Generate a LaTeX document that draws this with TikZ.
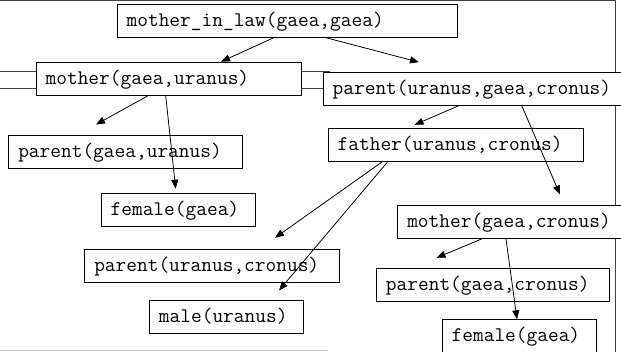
\documentclass[tikz,border=0pt]{standalone}
\usepackage{fontspec}
\usetikzlibrary{arrows.meta}
\begin{document}
\begin{tikzpicture}[x=1pt, y=-1pt,
    term/.style={draw, fill=white, line width=0.9pt, anchor=north west,
      font=\ttfamily\fontsize{20.8}{24}\selectfont, inner xsep=9.5pt, inner ysep=0pt,
      minimum height=33pt, align=left, text height=14.5pt, text depth=3.5pt},
    link/.style={line width=0.8pt, -{Triangle[length=9pt, width=7pt]}},
    frame/.style={line width=1pt, black!75}]
   \useasboundingbox (0,0) rectangle (621,352);
   \clip (0,0) rectangle (621,352);
   \draw[frame] (0,0.5) -- (615.5,0.5) -- (615.5,352);
   \draw[frame] (0,71.7) -- (330,71.7) (0,88.3) -- (330,88.3);
   \draw[black!25, line width=1pt] (0,350.7) -- (328,350.7);
   \node[term, text width=321.6pt] (mil) at (116.7,4) {mother\_in\_law(gaea,gaea)};
   \node[term, text width=246pt] (mu) at (35.7,61.7) {mother(gaea,uranus)};
   \node[term, text width=281pt] (pugc) at (322.7,71.7) {parent(uranus,gaea,cronus)};
   \node[term, text width=214.4pt] (pgu) at (8.3,135) {parent(gaea,uranus)};
   \node[term, text width=236.3pt] (fuc) at (327.7,128.3) {father(uranus,cronus)};
   \node[term, text width=135.3pt] (fg) at (100.7,192.7) {female(gaea)};
   \node[term, text width=207pt] (mgc) at (397.3,205) {mother(gaea,cronus)};
   \node[term, text width=236pt] (puc) at (84.3,249.3) {parent(uranus,cronus)};
   \node[term, text width=214.3pt] (pgc) at (376,268.3) {parent(gaea,cronus)};
   \node[term, text width=135.3pt] (mlu) at (149,300) {male(uranus)};
   \node[term, text width=135.3pt] (fg2) at (441.7,319.3) {female(gaea)};
   \draw[link] ([xshift=156.6pt]mil.south west) -- ([xshift=185.3pt]mu.north west);
   \draw[link] ([xshift=210pt]mil.south west) -- ([xshift=96.3pt, yshift=9.5pt]pugc.north west);
   \draw[link] ([xshift=112.6pt]mu.south west) -- ([xshift=87.7pt, yshift=10.5pt]pgu.north west);
   \draw[link] ([xshift=130pt]mu.south west) -- ([xshift=75pt, yshift=4pt]fg.north west);
   \draw[link] ([xshift=136.3pt]pugc.south west) -- ([xshift=86.8pt, yshift=3.5pt]fuc.north west);
   \draw[link] ([xshift=199pt]pugc.south west) -- ([xshift=162.7pt, yshift=10.5pt]mgc.north west);
   \draw[link] ([xshift=54pt]fuc.south west) -- ([xshift=190.7pt, yshift=11.5pt]puc.north west);
   \draw[link] ([xshift=59.6pt]fuc.south west) -- ([xshift=130pt, yshift=9.5pt]mlu.north west);
   \draw[link] ([xshift=84.4pt]mgc.south west) -- ([xshift=60.5pt, yshift=10.5pt]pgc.north west);
   \draw[link] ([xshift=108.7pt]mgc.south west) -- ([xshift=75.3pt]fg2.north west);
\end{tikzpicture}
\end{document}
